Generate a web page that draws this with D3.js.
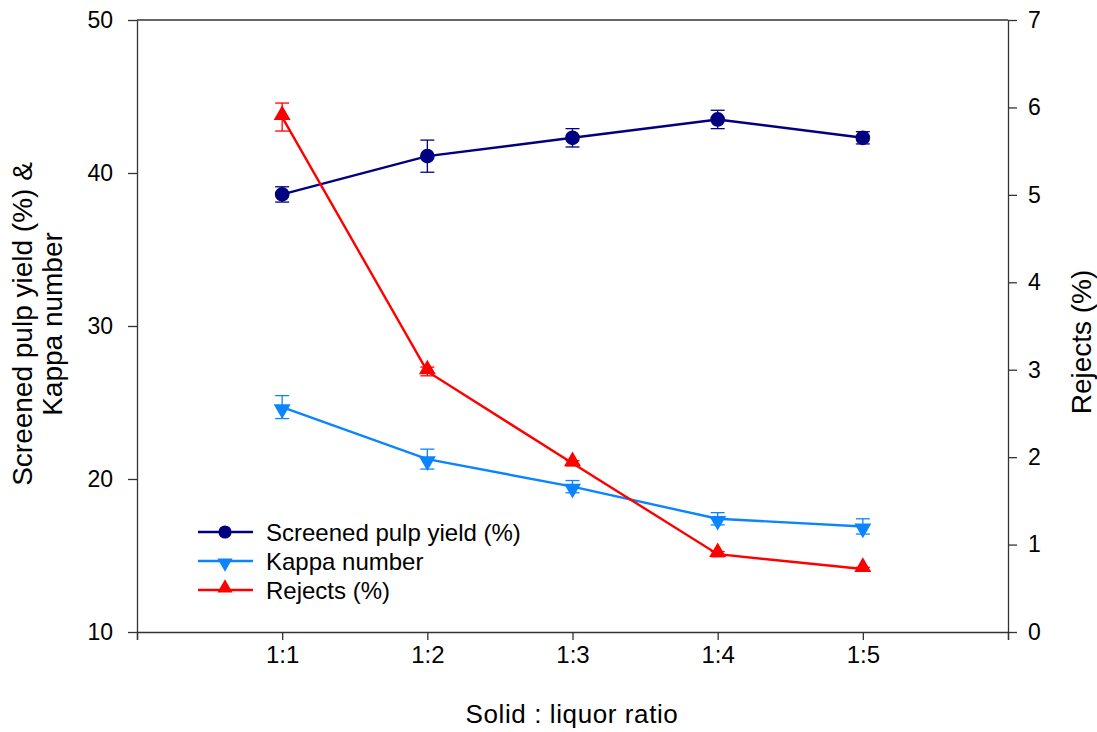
<!DOCTYPE html>
<html>
<head>
<meta charset="utf-8">
<script src="https://cdn.jsdelivr.net/npm/d3@7"></script>
<style>
  body { margin: 0; background: #fff; }
  text { font-family: "Liberation Sans", Arial, sans-serif; fill: #000; }
</style>
</head>
<body>
<div id="chart"></div>
<script>
// data
var ratios = ["1:1", "1:2", "1:3", "1:4", "1:5"];
var yieldVals = [38.6, 41.1, 42.3, 43.5, 42.3];
var yieldErr = [0.5, 1.05, 0.6, 0.6, 0.4];
var kappaVals = [24.7, 21.3, 19.5, 17.4, 16.9];
var kappaErr = [0.75, 0.65, 0.4, 0.4, 0.5];
var rejectVals = [5.89, 2.98, 1.93, 0.89, 0.72];
var rejectErr = [0.16, 0.05, 0.03, 0.03, 0.02];
var leftTicks = [10, 20, 30, 40, 50];
var rightTicks = [0, 1, 2, 3, 4, 5, 6, 7];

var W = 1097, H = 732;
var plotL = 137, plotR = 1008, plotT = 20, plotB = 632;

var svg = d3.select("#chart").append("svg")
    .attr("width", W)
    .attr("height", H);

var x = d3.scaleLinear().domain([0, 6]).range([plotL, plotR]);
var yL = d3.scaleLinear().domain([10, 50]).range([plotB, plotT]);
var yR = d3.scaleLinear().domain([0, 7]).range([plotB, plotT]);

//axes
var xAxis = d3.axisBottom(x)
    .tickValues([0, 1, 2, 3, 4, 5, 6])
    .tickFormat(function (d) { return (d >= 1 && d <= 5) ? ratios[d - 1] : ""; })
    .tickSizeOuter(0)
    .tickSize(8)
    .tickPadding(6);
var gx = svg.append("g").attr("transform", "translate(0," + plotB + ")").call(xAxis);

var gl = svg.append("g").attr("transform", "translate(" + plotL + ",0)")
    .call(d3.axisLeft(yL).tickValues(leftTicks).tickSize(9).tickSizeOuter(0).tickPadding(15));

var gr = svg.append("g").attr("transform", "translate(" + plotR + ",0)")
    .call(d3.axisRight(yR).tickValues(rightTicks).tickFormat(d3.format("d"))
        .tickSize(9).tickSizeOuter(0).tickPadding(11));

[gx, gl, gr].forEach(function (g) {
    g.selectAll("path, line").attr("stroke", "#333").attr("stroke-width", 1.3);
    g.selectAll("text").style("font-size", "23px").attr("fill", "#000");
});
gx.selectAll("text").style("font-size", "24px");

//top frame line
svg.append("line")
    .attr("x1", plotL).attr("x2", plotR)
    .attr("y1", plotT).attr("y2", plotT)
    .attr("stroke", "#333").attr("stroke-width", 1.3);

//axis titles
svg.append("text")
    .attr("x", 572)
    .attr("y", 723)
    .attr("text-anchor", "middle")
    .style("font-size", "26px")
    .style("letter-spacing", "0.6px")
    .text("Solid : liquor ratio");

var lt = svg.append("text")
    .attr("transform", "translate(32,324) rotate(-90)")
    .attr("text-anchor", "middle")
    .style("font-size", "28px");
lt.append("tspan").attr("x", 0).attr("dy", 0).text("Screened pulp yield (%) &");
lt.append("tspan").attr("x", 0).attr("dy", 30).text("Kappa number");

svg.append("text")
    .attr("transform", "translate(1091,342) rotate(-90)")
    .attr("text-anchor", "middle")
    .style("font-size", "28px")
    .text("Rejects (%)");

var series = [
    {name: "Screened pulp yield (%)", vals: yieldVals, err: yieldErr, y: yL, color: "#000080", sym: d3.symbolCircle, rot: 0, size: 170},
    {name: "Kappa number", vals: kappaVals, err: kappaErr, y: yL, color: "#0a84ff", sym: d3.symbolTriangle, rot: 180, size: 125},
    {name: "Rejects (%)", vals: rejectVals, err: rejectErr, y: yR, color: "#ff0000", sym: d3.symbolTriangle, rot: 0, size: 125}
];

var line = d3.line();

function symOffset(s) {
    if (s.sym !== d3.symbolTriangle) return 0;
    return s.rot ? 2 : -2;
}

series.forEach(function (s) {
    var g = svg.append("g");
    var pts = s.vals.map(function (v, i) { return [x(i + 1), s.y(v)]; });
    g.append("path")
        .attr("d", line(pts))
        .attr("fill", "none")
        .attr("stroke", s.color)
        .attr("stroke-width", 2.4);

    //error bars
    s.vals.forEach(function (v, i) {
        var cx = x(i + 1);
        var y1 = s.y(v - s.err[i]), y2 = s.y(v + s.err[i]);
        g.append("line").attr("x1", cx).attr("x2", cx).attr("y1", y1).attr("y2", y2)
            .attr("stroke", s.color).attr("stroke-width", 1.3);
        g.append("line").attr("x1", cx - 7).attr("x2", cx + 7).attr("y1", y1).attr("y2", y1)
            .attr("stroke", s.color).attr("stroke-width", 1.3);
        g.append("line").attr("x1", cx - 7).attr("x2", cx + 7).attr("y1", y2).attr("y2", y2)
            .attr("stroke", s.color).attr("stroke-width", 1.3);
    });

    g.selectAll("path.pt")
        .data(s.vals)
        .enter().append("path")
        .attr("class", "pt")
        .attr("d", d3.symbol().type(s.sym).size(s.size))
        .attr("transform", function (d, i) {
            return "translate(" + x(i + 1) + "," + (s.y(d) + symOffset(s)) + ") rotate(" + s.rot + ")";
        })
        .attr("fill", s.color);
});

//legend
var legend = svg.append("g");
series.forEach(function (s, i) {
    var ly = 532 + i * 29;
    legend.append("line")
        .attr("x1", 198).attr("x2", 253).attr("y1", ly).attr("y2", ly)
        .attr("stroke", s.color).attr("stroke-width", 2.4);
    legend.append("path")
        .attr("d", d3.symbol().type(s.sym).size(s.size * 0.8))
        .attr("transform", "translate(225," + (ly + symOffset(s)) + ") rotate(" + s.rot + ")")
        .attr("fill", s.color);
    legend.append("text")
        .attr("x", 266)
        .attr("y", ly + 9)
        .style("font-size", "24px")
        .text(s.name);
});
</script>
</body>
</html>
